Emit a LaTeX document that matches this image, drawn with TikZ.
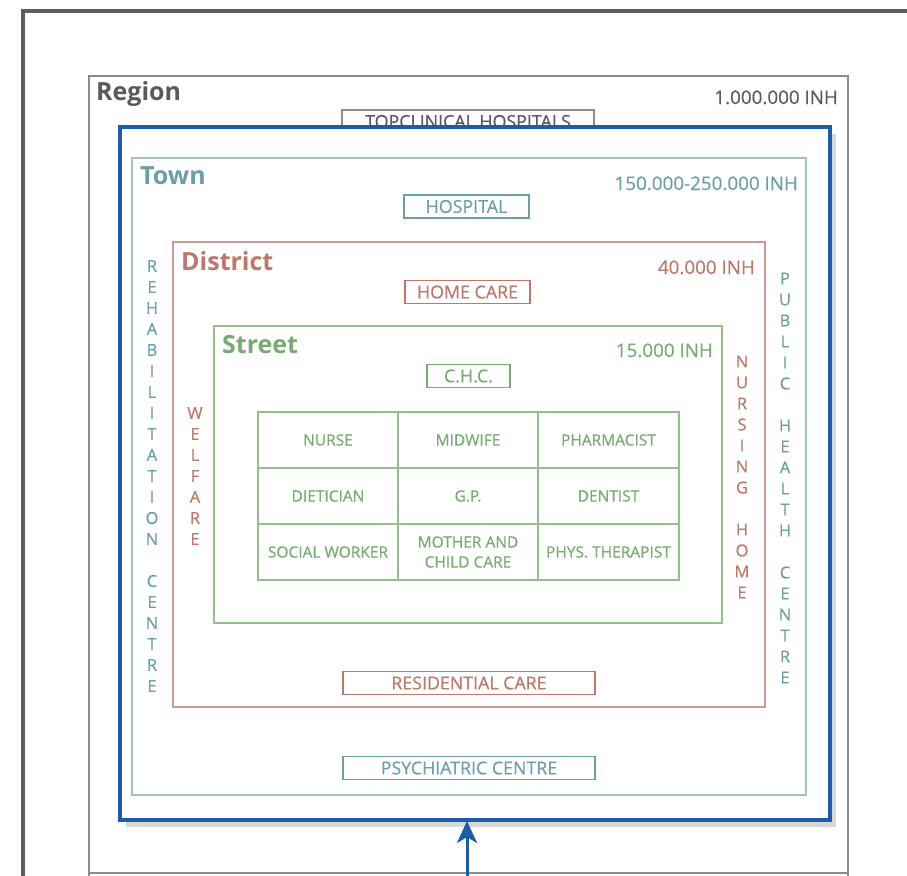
\documentclass[tikz,border=0pt]{standalone}
\usepackage{fontspec}
\setmainfont{Open Sans}[FakeBold=0.35, BoldFeatures={FakeBold=0}]
\usetikzlibrary{arrows.meta,shadows}

\definecolor{pagegray}{HTML}{5A605D}
\definecolor{regiongray}{HTML}{8A8D8B}
\definecolor{regiontext}{HTML}{585B59}
\definecolor{frameblue}{HTML}{1C5CA8}
\definecolor{towncol}{HTML}{6A9FA8}
\definecolor{townline}{HTML}{A2C2C4}
\definecolor{districtcol}{HTML}{BF766B}
\definecolor{districtline}{HTML}{CC9C94}
\definecolor{streetcol}{HTML}{78AB71}
\definecolor{streetline}{HTML}{93BF8D}

\tikzset{
  title/.style={anchor=base west, inner sep=0pt, font=\fontsize{25}{25}\selectfont\bfseries},
  inh/.style={anchor=base east, inner sep=0pt, font=\fontsize{18.8}{18.8}\selectfont},
  lblbox/.style={draw, line width=1.5pt, inner sep=0pt, minimum height=23pt, font=\fontsize{17.8}{17.8}\selectfont},
  cell/.style={inner sep=0pt, align=center, font=\fontsize{15.5}{20}\selectfont},
  vtext/.style={inner sep=0pt, align=center, font=\fontsize{16.5}{21}\selectfont},
  feed/.style={frameblue, line width=3pt, -{Stealth[length=22pt, width=20pt, inset=6pt]}}
}

\begin{document}
\begin{tikzpicture}[x=1pt,y=-1pt]
\useasboundingbox (0,0) rectangle (907,875);
\fill[white] (0,0) rectangle (907,875);

% page frame
\draw[pagegray, line width=3.5pt] (23,876) -- (23,11) -- (908,11);

% region
\draw[regiongray, line width=2pt] (89,876) -- (89,76) -- (848,76) -- (848,876);
\draw[regiongray, line width=2pt] (89,873) -- (848,873);
\node[title, text=regiontext] (region) at (96,100) {Region};
\node[inh, text=regiontext] (regioninh) at (838,104) {1.000.000 INH};
\node[lblbox, draw=regiongray, text=regiontext, minimum width=252pt] (topclin) at (468,121.5) {TOPCLINICAL HOSPITALS};

% the blue frame
\draw[frameblue, line width=4pt, fill=white,
  drop shadow={shadow xshift=6pt, shadow yshift=-7pt, fill=black!30}] (120,127) rectangle (830,820);

% town
\draw[townline, line width=1.5pt] (132,158) rectangle (806,795);
\node[title, text=towncol] (town) at (140,184) {Town};
\node[inh, text=towncol] (towninh) at (798,190) {150.000-250.000 INH};
\node[lblbox, draw=towncol, text=towncol, minimum width=125pt] (hospital) at (466.5,206.5) {HOSPITAL};
\node[lblbox, draw=towncol, text=towncol, minimum width=252pt] (psych) at (469,768) {PSYCHIATRIC CENTRE};
\node[vtext, text=towncol] (rehab) at (152,476)
  {R\\E\\H\\A\\B\\I\\L\\I\\T\\A\\T\\I\\O\\N\\~\\C\\E\\N\\T\\R\\E};
\node[vtext, text=towncol] (publichealth) at (785,478)
  {P\\U\\B\\L\\I\\C\\~\\H\\E\\A\\L\\T\\H\\~\\C\\E\\N\\T\\R\\E};

% district
\draw[districtline, line width=1.5pt] (173,242) rectangle (765,707);
\node[title, text=districtcol] (district) at (181,270) {District};
\node[inh, text=districtcol] (districtinh) at (755,274) {40.000 INH};
\node[lblbox, draw=districtcol, text=districtcol, minimum width=125pt] (homecare) at (467.5,292) {HOME CARE};
\node[lblbox, draw=districtcol, text=districtcol, minimum width=252pt] (residential) at (469,683) {RESIDENTIAL CARE};
\node[vtext, text=districtcol] (welfare) at (195,476) {W\\E\\L\\F\\A\\R\\E};
\node[vtext, text=districtcol] (nursinghome) at (742,477) {N\\U\\R\\S\\I\\N\\G\\~\\H\\O\\M\\E};

% street
\draw[streetline, line width=1.5pt] (214,326) rectangle (722,623);
\node[title, text=streetcol] (street) at (222,353) {Street};
\node[inh, text=streetcol] (streetinh) at (713,357) {15.000 INH};
\node[lblbox, draw=streetcol, text=streetcol, minimum width=83pt] (chc) at (468.5,376) {C.H.C.};

% the practices
\draw[streetline, line width=1.5pt] (258,412) rectangle (679,580);
\foreach \gx in {398,538}
  \draw[streetline, line width=1.5pt] (\gx,412) -- (\gx,580);
\foreach \gy in {468,524}
  \draw[streetline, line width=1.5pt] (258,\gy) -- (679,\gy);
\node[cell, text=streetcol] (nurse) at (328,440) {NURSE};
\node[cell, text=streetcol] (midwife) at (468,440) {MIDWIFE};
\node[cell, text=streetcol] (pharmacist) at (608.5,440) {PHARMACIST};
\node[cell, text=streetcol] (dietician) at (328,496) {DIETICIAN};
\node[cell, text=streetcol] (gp) at (468,496) {G.P.};
\node[cell, text=streetcol] (dentist) at (608.5,496) {DENTIST};
\node[cell, text=streetcol] (social) at (328,552) {SOCIAL WORKER};
\node[cell, text=streetcol] (motherchild) at (468,552) {MOTHER AND\\CHILD CARE};
\node[cell, text=streetcol] (phys) at (608.5,552) {PHYS. THERAPIST};

% arrow into the frame
\coordinate (framefoot) at (467,821);
\coordinate (arrowfoot) at (467,876);
\draw[feed] (arrowfoot) -- (framefoot);
\end{tikzpicture}
\end{document}
